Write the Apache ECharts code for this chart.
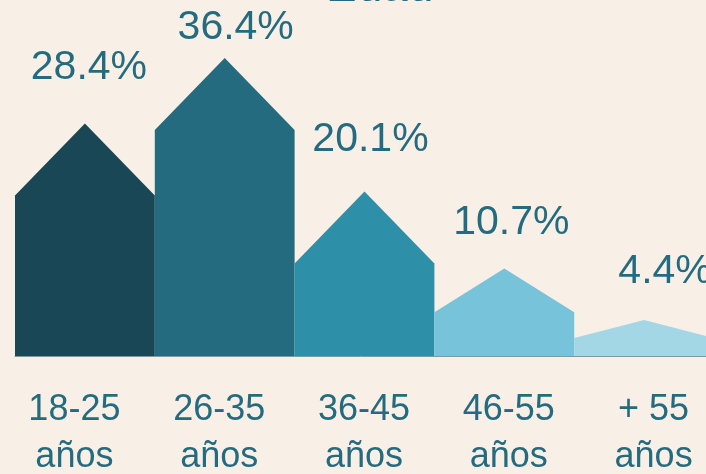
<!DOCTYPE html>
<html>
<head>
<meta charset="utf-8">
<script src="https://cdn.jsdelivr.net/npm/echarts@6/dist/echarts.min.js"></script>
<style>
  html, body { margin: 0; padding: 0; background: #F8F0E6; }
  #chart { width: 706px; height: 474px; }
</style>
</head>
<body>
<div id="chart"></div>
<script>
// datos
const categories = ['18-25\naños', '26-35\naños', '36-45\naños', '46-55\naños', '+ 55\naños']
const values = [28.4, 36.4, 20.1, 10.7, 4.4]

// colores de cada casa
const colors = ['#1A4755', '#246B80', '#2E8FA9', '#76C3DA', '#A3D7E6']
// ajuste fino de las etiquetas (dx, alto sobre el pico)
const labelNudge = [[4, 56], [11, 30], [6, 52], [7, 46], [21, 48]]

const textColor = '#246B80'
const fontFamily = '"Liberation Sans", Arial, sans-serif'
const chart = echarts.init(document.getElementById('chart'))

function renderHouse(params, api) {
  const i = api.value(0)
  const v = api.value(1)
  const peak = api.coord([i, v])
  const base = api.coord([i, 0])
  const w = api.size([1, 0])[0]
  const x0 = base[0] - w / 2
  const x1 = base[0] + w / 2
  const roof = Math.min(72, (base[1] - peak[1]) / 2)
  const shoulder = peak[1] + roof
  const nudge = labelNudge[i]
  return {
    type: 'group',
    children: [
      {
        type: 'polygon',
        shape: {
          points: [[x0, base[1]], [x0, shoulder], [peak[0], peak[1]], [x1, shoulder], [x1, base[1]]],
        },
        style: { fill: colors[i] },
      },
      {
        type: 'text',
        x: peak[0] + nudge[0],
        y: peak[1] - nudge[1],
        style: {
          text: v.toFixed(1) + '%',
          fill: textColor,
          font: '41px ' + fontFamily,
          align: 'center',
          verticalAlign: 'middle',
        },
      },
    ],
  }
}

const option = {
  backgroundColor: '#F8F0E6',
  animation: false,
  title: {
    text: 'Edad',
    left: 321,
    top: -40,
    textStyle: {
      color: textColor,
      fontSize: 46,
      fontWeight: 'normal',
      fontFamily,
    },
  },
  grid: [
    // casas
    { left: 15, right: -8, top: 0, bottom: 118, outerBoundsMode: 'none', containLabel: false },
    // etiquetas de categoría (algo más espaciadas)
    { left: 2, right: -20, top: 0, bottom: 118, outerBoundsMode: 'none', containLabel: false },
  ],
  xAxis: [
    {
      type: 'category',
      gridIndex: 0,
      data: categories,
      axisTick: { show: false },
      axisLine: { show: true, lineStyle: { color: '#7A9CA6', width: 1 } },
      axisLabel: { show: false },
    },
    {
      type: 'category',
      gridIndex: 1,
      data: categories,
      axisTick: { show: false },
      axisLine: { show: false },
      axisLabel: {
        interval: 0,
        margin: 31,
        color: textColor,
        fontSize: 36,
        lineHeight: 47,
        fontFamily,
      },
    },
  ],
  yAxis: [
    { type: 'value', gridIndex: 0, min: 0, max: 43.5, show: false },
    { type: 'value', gridIndex: 1, min: 0, max: 43.5, show: false },
  ],
  series: [
    {
      type: 'custom',
      xAxisIndex: 0,
      yAxisIndex: 0,
      renderItem: renderHouse,
      data: values.map((v, i) => [i, v]),
      encode: { x: 0, y: 1 },
    },
  ],
}

chart.setOption(option)
</script>
</body>
</html>
